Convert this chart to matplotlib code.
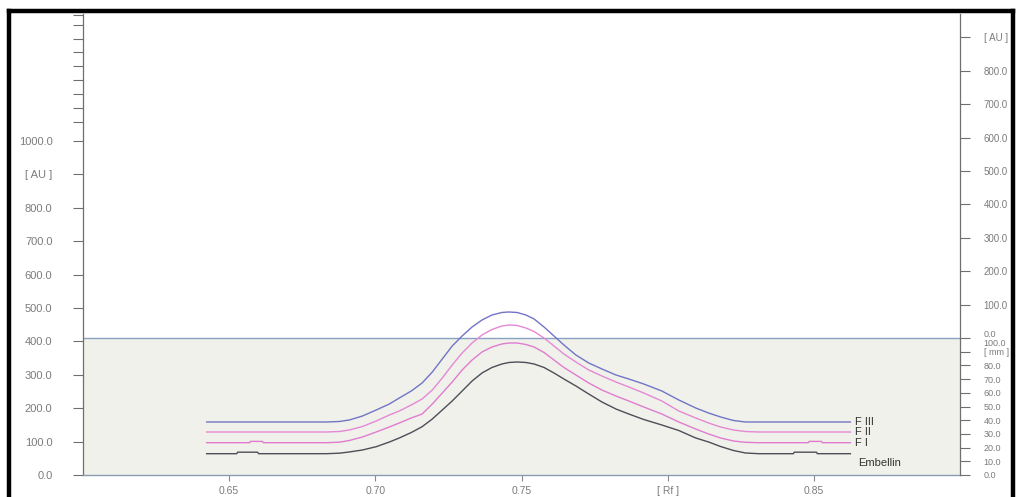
import numpy as np
import matplotlib
matplotlib.use("Agg")
import matplotlib.pyplot as plt
from matplotlib.lines import Line2D

plt.rcParams['font.family'] = ['Liberation Sans', 'DejaVu Sans']

# ---- data: densitogram traces (Rf vs AU) ----
rf_grid = [0.6423, 0.6833, 0.6877, 0.6911, 0.6956, 0.7003, 0.7048, 0.7082, 0.7123, 0.7160,
           0.7195, 0.7229, 0.7263, 0.7297, 0.7331, 0.7365, 0.7399, 0.7433, 0.7457, 0.7485,
           0.7515, 0.7543, 0.7577, 0.7611, 0.7645, 0.7686, 0.7730, 0.7775, 0.7823, 0.7867,
           0.7918, 0.7980, 0.8038, 0.8096, 0.8140, 0.8181, 0.8225, 0.8266, 0.8311, 0.8625]

f3_rf = rf_grid
f3_au = [158.7, 158.7, 160.2, 164.7, 176.6, 194.6, 212.6, 230.5, 251.5, 275.4,
         308.4, 347.3, 386.2, 416.2, 443.1, 464.1, 479.0, 486.5, 488.0, 486.5,
         479.0, 467.1, 443.1, 416.2, 389.2, 359.3, 335.3, 317.4, 299.4, 287.4,
         272.5, 251.5, 224.6, 200.6, 185.6, 173.7, 163.2, 158.7, 158.7, 158.7]

f2_rf = rf_grid
f2_au = [128.7, 128.7, 130.2, 134.7, 145.2, 161.7, 179.6, 191.6, 209.6, 227.5,
         254.5, 290.4, 329.3, 365.3, 395.2, 419.2, 435.6, 446.1, 449.1, 447.6,
         440.1, 429.6, 410.2, 386.2, 362.3, 338.3, 314.4, 296.4, 278.4, 263.5,
         245.5, 221.6, 191.6, 170.7, 155.7, 143.7, 134.7, 130.2, 128.7, 128.7]

f1_rf = [0.6423, 0.6570, 0.6573, 0.6614, 0.6617] + rf_grid[1:39] + \
        [0.8481, 0.8484, 0.8526, 0.8529, 0.8625]
f1_au = [96.7, 96.7, 100.6, 100.6, 96.7,
         96.7, 98.2, 103.3, 113.8, 128.7, 143.7, 155.7, 170.7, 182.6, 212.6,
         245.5, 278.4, 314.4, 344.3, 368.3, 383.2, 392.2, 395.2, 395.2, 390.7,
         383.2, 366.8, 344.3, 321.9, 299.4, 275.4, 254.5, 236.5, 221.6, 203.6,
         182.6, 158.7, 137.7, 122.8, 110.8, 101.8, 97.9, 96.7,
         96.7, 100.6, 100.6, 96.7, 96.7]

emb_rf = [0.6423, 0.6526, 0.6529, 0.6597, 0.6601] + rf_grid[1:39] + \
         [0.8430, 0.8433, 0.8509, 0.8512, 0.8625]
emb_au = [63.8, 63.8, 68.3, 68.3, 63.8,
          63.8, 65.3, 68.9, 74.9, 84.7, 98.8, 110.8, 127.2, 144.6, 167.7,
          194.6, 221.6, 251.5, 281.4, 305.4, 321.9, 332.3, 336.8, 338.3, 336.8,
          332.3, 321.9, 305.4, 287.4, 266.5, 242.5, 218.6, 197.6, 182.6, 166.2,
          149.7, 133.2, 110.8, 98.8, 85.3, 73.4, 65.9, 63.8,
          63.8, 68.3, 68.3, 63.8, 63.8]

trace_names = ['F III', 'F II', 'F I', 'Embellin']

# axis ticks
rf_ticks = [0.65, 0.70, 0.75, 0.80, 0.85]
rf_labels = ['0.65', '0.70', '0.75', '[ Rf ]', '0.85']
au_left_ticks = [0, 100, 200, 300, 400, 500, 600, 700, 800, 900, 1000]
au_left_labels = ['0.0', '100.0', '200.0', '300.0', '400.0', '500.0', '600.0',
                  '700.0', '800.0', '[ AU ]', '1000.0']
au_left_minor = [1057, 1099, 1140, 1182, 1223, 1265, 1306, 1348, 1378]
au_right_ticks = [100, 200, 300, 400, 500, 600, 700, 800, 900]
au_right_labels = ['100.0', '200.0', '300.0', '400.0', '500.0', '600.0', '700.0',
                   '800.0', '[ AU ]']
mm_ticks = [0, 10, 20, 30, 40, 50, 60, 70, 80, 90, 100]
mm_labels = ['0.0', '10.0', '20.0', '30.0', '40.0', '50.0', '60.0', '70.0', '80.0',
             '[ mm ]', '0.0\n100.0']

# ---- figure ----
W, H = 1018, 497
fig = plt.figure(figsize=(W / 100, H / 100), dpi=100)
ax = fig.add_axes([83 / W, (H - 475) / H, 877 / W, 461 / H])
ax.set_xlim(0.60, 0.90)
ax.set_ylim(0, 1380)

box_top = 410       # top of the shaded plate region (left AU)
mm_scale = box_top / 100.0

# shaded plate area
ax.axhspan(0, box_top, color='#eff1ea', zorder=0, lw=0)
ax.axhline(box_top, color='#8aa2c2', lw=1.0, zorder=1)

# traces
tr_colors = ['#7274c6', '#e588d6', '#e07ccf', '#4f4d57']
for rf, au, c in zip([f3_rf, f2_rf, f1_rf, emb_rf], [f3_au, f2_au, f1_au, emb_au], tr_colors):
    ax.plot(rf, au, color=c, lw=1.0, zorder=3, solid_joinstyle='round')

# trace labels
lab_y = [f3_au[-1], f2_au[-1], f1_au[-1], 36]
lab_x = [0.8642, 0.8642, 0.8642, 0.8652]
for nm, xx, yy in zip(trace_names, lab_x, lab_y):
    ax.text(xx, yy, nm, fontsize=8, color='#333333', ha='left', va='center', zorder=4)

# left axis
ax.spines['top'].set_visible(False)
ax.spines['right'].set_visible(False)
ax.spines['left'].set_color('#6f6f6f')
ax.spines['left'].set_linewidth(0.9)
ax.spines['bottom'].set_color('#8a9cb4')
ax.spines['bottom'].set_linewidth(1.0)
ax.set_yticks(au_left_ticks)
ax.set_yticklabels(au_left_labels)
ax.set_yticks(au_left_minor, minor=True)
ax.tick_params(axis='y', which='both', direction='out', length=7, width=0.8,
               color='#6f6f6f', labelsize=8, labelcolor='#7c7c7c', pad=15)
ax.set_xticks(rf_ticks)
ax.set_xticklabels(rf_labels)
ax.tick_params(axis='x', direction='out', length=4, width=0.8, color='#8a8a8a',
               labelsize=7.5, labelcolor='#7c7c7c', pad=4)

# right axis: AU above the plate, mm along the plate
ax2 = ax.twinx()
ax2.set_ylim(0 - box_top, 1380 - box_top)
for s in ['top', 'left', 'bottom']:
    ax2.spines[s].set_visible(False)
ax2.spines['right'].set_color('#6f6f6f')
ax2.spines['right'].set_linewidth(0.9)
r_ticks = au_right_ticks + [m * mm_scale - box_top for m in mm_ticks]
r_labels = au_right_labels + mm_labels
ax2.set_yticks(r_ticks)
ax2.set_yticklabels(r_labels, linespacing=1.0)
ax2.tick_params(axis='y', direction='out', length=7, width=0.8, color='#6f6f6f',
                labelsize=7, labelcolor='#7c7c7c', pad=10)
for t in ax2.get_yticklabels()[len(au_right_ticks):]:
    t.set_fontsize(6.5)

# scanned page frame
frame = dict(color='black', lw=3.2, transform=fig.transFigure)
fig.add_artist(Line2D([9 / W, 9 / W], [0, 1 - 11 / H], **frame))
fig.add_artist(Line2D([9 / W, 1013 / W], [1 - 11 / H, 1 - 11 / H], **frame))
fig.add_artist(Line2D([1013 / W, 1013 / W], [0, 1 - 11 / H], **frame))

fig.savefig('out.png', dpi=100)
